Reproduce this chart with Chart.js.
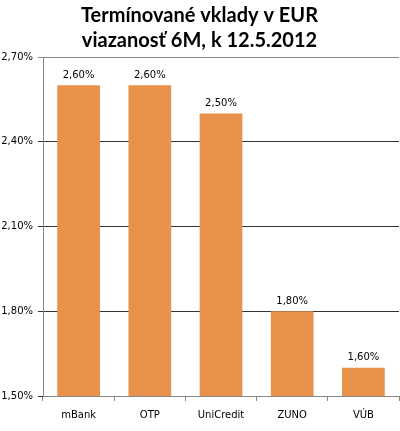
<!DOCTYPE html>
<html lang="sk">
<head>
    <meta charset="UTF-8">
    <title>Termínované vklady v EUR</title>
    <style>
        html, body { margin: 0; padding: 0; background: #fff; }
        #wrap { width: 400px; height: 431px; }
    </style>
</head>
<body>
    <div id="wrap"><canvas id="vkladyChart"></canvas></div>

    <script src="https://cdn.jsdelivr.net/npm/chart.js"></script>
    <script>
        // data
        const banks = ['mBank', 'OTP', 'UniCredit', 'ZUNO', 'VÚB'];
        const rates = [2.60, 2.60, 2.50, 1.80, 1.60];
        const titleLines = ['Termínované vklady v EUR', 'viazanosť 6M, k 12.5.2012'];
        const yMin = 1.5, yMax = 2.7, yStep = 0.3;

        const fmt = v => v.toFixed(2).replace('.', ',') + '%';

        // value labels above the bars
        const barLabels = {
            id: 'barLabels',
            afterDatasetsDraw(chart) {
                const ctx = chart.ctx;
                const meta = chart.getDatasetMeta(0);
                ctx.save();
                ctx.font = '10px "DejaVu Sans"';
                ctx.fillStyle = '#000';
                ctx.textAlign = 'center';
                ctx.textBaseline = 'bottom';
                meta.data.forEach((bar, i) => {
                    ctx.fillText(fmt(rates[i]), bar.x, bar.y - 5);
                });
                ctx.restore();
            }
        };

        const ctx = document.getElementById('vkladyChart').getContext('2d');
        const vkladyChart = new Chart(ctx, {
            type: 'bar',
            data: {
                labels: banks,
                datasets: [{
                    data: rates,
                    backgroundColor: '#E8914A',
                    categoryPercentage: 0.6,
                    barPercentage: 1.0
                }]
            },
            options: {
                responsive: true,
                maintainAspectRatio: false,
                animation: false,
                layout: { padding: { right: 1 } },
                plugins: {
                    legend: { display: false },
                    tooltip: { enabled: false },
                    title: {
                        display: true,
                        text: titleLines,
                        color: '#000',
                        font: { family: 'Lato', size: 20, weight: 'bold', lineHeight: 1.25 },
                        padding: { top: 3, bottom: 4 }
                    }
                },
                scales: {
                    x: {
                        grid: {
                            offset: true,
                            drawOnChartArea: false,
                            color: '#868686',
                            tickLength: 5
                        },
                        border: { color: '#868686' },
                        ticks: {
                            color: '#000',
                            font: { family: 'DejaVu Sans', size: 10 },
                            padding: 8
                        },
                        afterFit(axis) { axis.height = 35; }
                    },
                    y: {
                        min: yMin,
                        max: yMax,
                        grid: {
                            // top line is grey like the frame, the rest dark
                            color: c => (c.tick && c.tick.value === yMax) ? '#8a8a8a' : '#333',
                            tickLength: 5
                        },
                        border: { color: '#868686' },
                        ticks: {
                            stepSize: yStep,
                            color: '#000',
                            font: { family: 'DejaVu Sans', size: 10 },
                            padding: 5,
                            callback: v => fmt(v)
                        },
                        afterFit(axis) { axis.width = 43; }
                    }
                }
            },
            plugins: [barLabels]
        });
    </script>
</body>
</html>
